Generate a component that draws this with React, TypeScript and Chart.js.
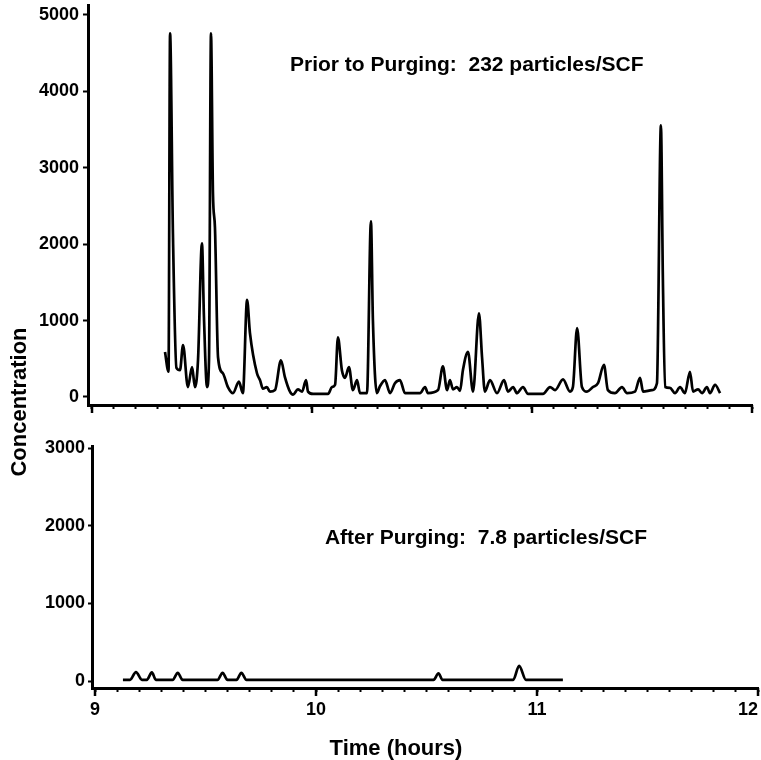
import { useEffect, useRef } from "react";
import { Chart, registerables } from "chart.js";

Chart.register(...registerables);

// ---- Data ----
const PRIOR_TIME = [
  9.332, 9.348, 9.355, 9.368, 9.384, 9.4, 9.414, 9.436, 9.455, 9.468, 9.482, 9.5, 9.509, 9.523, 9.532, 9.541,
  9.55, 9.559, 9.573, 9.595, 9.618, 9.641, 9.668, 9.686, 9.705, 9.718, 9.75, 9.764, 9.777, 9.795, 9.809, 9.832,
  9.859, 9.877, 9.9, 9.914, 9.936, 9.955, 9.973, 9.982, 10.005, 10.073, 10.091, 10.105, 10.118, 10.136, 10.15,
  10.168, 10.186, 10.205, 10.218, 10.25, 10.268, 10.277, 10.295, 10.309, 10.332, 10.355, 10.377, 10.4, 10.423,
  10.491, 10.514, 10.527, 10.573, 10.595, 10.614, 10.627, 10.641, 10.659, 10.673, 10.686, 10.709, 10.732, 10.759,
  10.773, 10.786, 10.809, 10.841, 10.873, 10.891, 10.914, 10.932, 10.959, 10.982, 11.05, 11.082, 11.105, 11.141,
  11.173, 11.186, 11.205, 11.227, 11.25, 11.277, 11.3, 11.327, 11.345, 11.377, 11.409, 11.432, 11.468, 11.491,
  11.505, 11.545, 11.568, 11.586, 11.595, 11.605, 11.627, 11.65, 11.673, 11.695, 11.718, 11.732, 11.755, 11.773,
  11.795, 11.809, 11.832, 11.855,
];
const PRIOR_CONC = [
  590, 330, 4760, 2140, 380, 350, 680, 130, 390, 130, 480, 2010, 1050, 130, 480, 4760,
  2660, 2220, 520, 310, 130, 50, 200, 50, 1270, 840, 310, 220, 110, 130, 70, 90,
  480, 260, 70, 30, 100, 70, 220, 70, 40, 40, 130, 160, 780, 350, 250,
  390, 90, 220, 50, 50, 2300, 1000, 50, 140, 220, 50, 180, 220, 50,
  50, 130, 50, 90, 400, 90, 220, 100, 130, 80, 350, 590, 70, 1095,
  520, 70, 220, 50, 220, 70, 130, 50, 130, 40, 40, 130, 90, 230,
  70, 130, 900, 130, 70, 130, 180, 420, 90, 50, 130, 50, 70, 250,
  70, 90, 180, 3555, 1530, 130, 120, 50, 130, 50, 330, 70, 100, 50,
  130, 50, 160, 50,
];

const AFTER_TIME = [
  9.126, 9.158, 9.185, 9.212, 9.234, 9.257, 9.275, 9.351, 9.374, 9.396, 9.554, 9.577, 9.599, 9.64, 9.662,
  9.685, 10.532, 10.554, 10.572, 10.892, 10.919, 10.95, 11.117,
];
const AFTER_CONC = [
  15, 15, 115, 15, 15, 110, 15, 15, 105, 15, 15, 105, 15, 15, 105,
  15, 15, 100, 15, 15, 195, 15, 15,
];

const TOP_Y_TICKS = [0, 1000, 2000, 3000, 4000, 5000];
const BOTTOM_Y_TICKS = [0, 1000, 2000, 3000];
const X_MAJOR_TICKS = [9, 10, 11, 12];
const X_TICK_LABELS = ["9", "10", "11", "12"];
const X_MINOR_TICKS = Array.from({ length: 31 }, (_, i) => 9 + i / 10);

const Y_TITLE = "Concentration";
const X_TITLE = "Time (hours)";
const PRIOR_NOTE = "Prior to Purging:  232 particles/SCF";
const AFTER_NOTE = "After Purging:  7.8 particles/SCF";

// ---- Styling ----
const FONT_FAMILY = '"Liberation Sans", Arial, Helvetica, sans-serif';
const INK = "#000000";
const NONE = "rgba(0,0,0,0)";

type PanelOpts = {
  times: number[];
  values: number[];
  yTicks: number[];
  yMin: number;
  yMax: number;
  xMin: number;
  padding: { left: number; right: number; top: number; bottom: number };
  xAxisHeight: number;
  yAxisWidth: number;
  yTickLength: number;
  yTickPadding: number;
  showXLabels: boolean;
  note: string;
  noteX: number;
  noteY: number;
  drawTitles: boolean;
};

function makeChart(canvas: HTMLCanvasElement, p: PanelOpts) {
  const decorations = {
    id: "decorations",
    afterDraw(chart: any) {
      const ctx = chart.ctx;
      const xs = chart.scales.x;
      const ys = chart.scales.y;
      const area = chart.chartArea;
      ctx.save();
      // longer major ticks on the time axis
      ctx.strokeStyle = INK;
      ctx.lineWidth = 2.5;
      X_MAJOR_TICKS.forEach((v) => {
        const px = Math.round(xs.getPixelForValue(v));
        ctx.beginPath();
        ctx.moveTo(px, area.bottom);
        ctx.lineTo(px, area.bottom + 8);
        ctx.stroke();
      });
      // panel note
      ctx.fillStyle = INK;
      ctx.font = `bold 21px ${FONT_FAMILY}`;
      ctx.textAlign = "left";
      ctx.textBaseline = "alphabetic";
      ctx.fillText(p.note, xs.getPixelForValue(p.noteX), ys.getPixelForValue(p.noteY));
      if (p.drawTitles) {
        ctx.font = `bold 22px ${FONT_FAMILY}`;
        ctx.textAlign = "center";
        ctx.fillText(X_TITLE, 396, 755);
        ctx.translate(26, 402);
        ctx.rotate(-Math.PI / 2);
        ctx.fillText(Y_TITLE, 0, 0);
      }
      ctx.restore();
    },
  };

  // a hidden leading tick at the axis origin lets the last label ("12") be end-aligned
  const xTickValues = [p.xMin, ...X_MINOR_TICKS];

  return new Chart(canvas, {
    type: "line",
    data: {
      datasets: [
        {
          data: p.times.map((t, i) => ({ x: t, y: p.values[i] })),
          borderColor: INK,
          borderWidth: 2.7,
          pointRadius: 0,
          cubicInterpolationMode: "monotone",
          fill: false,
        },
      ],
    },
    options: {
      animation: false,
      responsive: false,
      events: [],
      layout: { padding: p.padding },
      plugins: { legend: { display: false }, tooltip: { enabled: false }, title: { display: false } },
      scales: {
        x: {
          type: "linear",
          min: p.xMin,
          max: 12,
          afterBuildTicks: (s: any) => {
            s.ticks = xTickValues.map((v) => ({ value: v }));
          },
          afterFit: (s: any) => {
            s.height = p.xAxisHeight;
            s.paddingLeft = 0;
            s.paddingRight = 0;
          },
          grid: {
            drawOnChartArea: false,
            drawTicks: true,
            tickLength: 4,
            tickWidth: 2,
            tickColor: (c: any) => (c.tick && c.tick.value < 8.999 ? NONE : INK),
          },
          border: { display: true, color: INK, width: 3 },
          ticks: {
            display: p.showXLabels,
            autoSkip: false,
            maxRotation: 0,
            align: "inner",
            padding: 7,
            color: INK,
            font: { family: FONT_FAMILY, size: 18, weight: "bold" },
            callback: (v: any) => {
              const idx = X_MAJOR_TICKS.findIndex((m) => Math.abs(m - Number(v)) < 1e-6);
              return idx >= 0 ? X_TICK_LABELS[idx] : "";
            },
          },
        },
        y: {
          type: "linear",
          min: p.yMin,
          max: p.yMax,
          afterBuildTicks: (s: any) => {
            s.ticks = p.yTicks.map((v) => ({ value: v }));
          },
          afterFit: (s: any) => {
            s.width = p.yAxisWidth;
            s.paddingTop = 0;
            s.paddingBottom = 0;
          },
          grid: {
            drawOnChartArea: false,
            drawTicks: true,
            tickLength: p.yTickLength,
            tickWidth: 2,
            tickColor: INK,
          },
          border: { display: true, color: INK, width: 3 },
          ticks: {
            padding: p.yTickPadding,
            color: INK,
            font: { family: FONT_FAMILY, size: 18, weight: "bold" },
            callback: (v: any) => String(v),
          },
        },
      },
    },
    plugins: [decorations],
  } as any);
}

export default function App() {
  const topRef = useRef<HTMLCanvasElement>(null);
  const bottomRef = useRef<HTMLCanvasElement>(null);

  useEffect(() => {
    document.body.style.margin = "0";
    document.body.style.background = "#ffffff";
    const top = makeChart(topRef.current!, {
      times: PRIOR_TIME,
      values: PRIOR_CONC,
      yTicks: TOP_Y_TICKS,
      yMin: -105,
      yMax: 5130,
      xMin: 8.982,
      padding: { left: 0, right: 9, top: 5, bottom: 340 },
      xAxisHeight: 15,
      yAxisWidth: 88,
      yTickLength: 5,
      yTickPadding: 4,
      showXLabels: false,
      note: PRIOR_NOTE,
      noteX: 9.9,
      noteY: 4261,
      drawTitles: false,
    });
    const bottom = makeChart(bottomRef.current!, {
      times: AFTER_TIME,
      values: AFTER_CONC,
      yTicks: BOTTOM_Y_TICKS,
      yMin: -90,
      yMax: 3026,
      xMin: 8.986,
      padding: { left: 0, right: 3, top: 446, bottom: 40 },
      xAxisHeight: 32,
      yAxisWidth: 92,
      yTickLength: 4,
      yTickPadding: 3,
      showXLabels: true,
      note: AFTER_NOTE,
      noteX: 10.04,
      noteY: 1764,
      drawTitles: true,
    });
    return () => {
      top.destroy();
      bottom.destroy();
    };
  }, []);

  return (
    <div style={{ position: "relative", width: 761, height: 760, background: "#ffffff", overflow: "hidden" }}>
      <canvas ref={topRef} width={761} height={760} style={{ position: "absolute", left: 0, top: 0 }} />
      <canvas ref={bottomRef} width={761} height={760} style={{ position: "absolute", left: 0, top: 0 }} />
    </div>
  );
}
